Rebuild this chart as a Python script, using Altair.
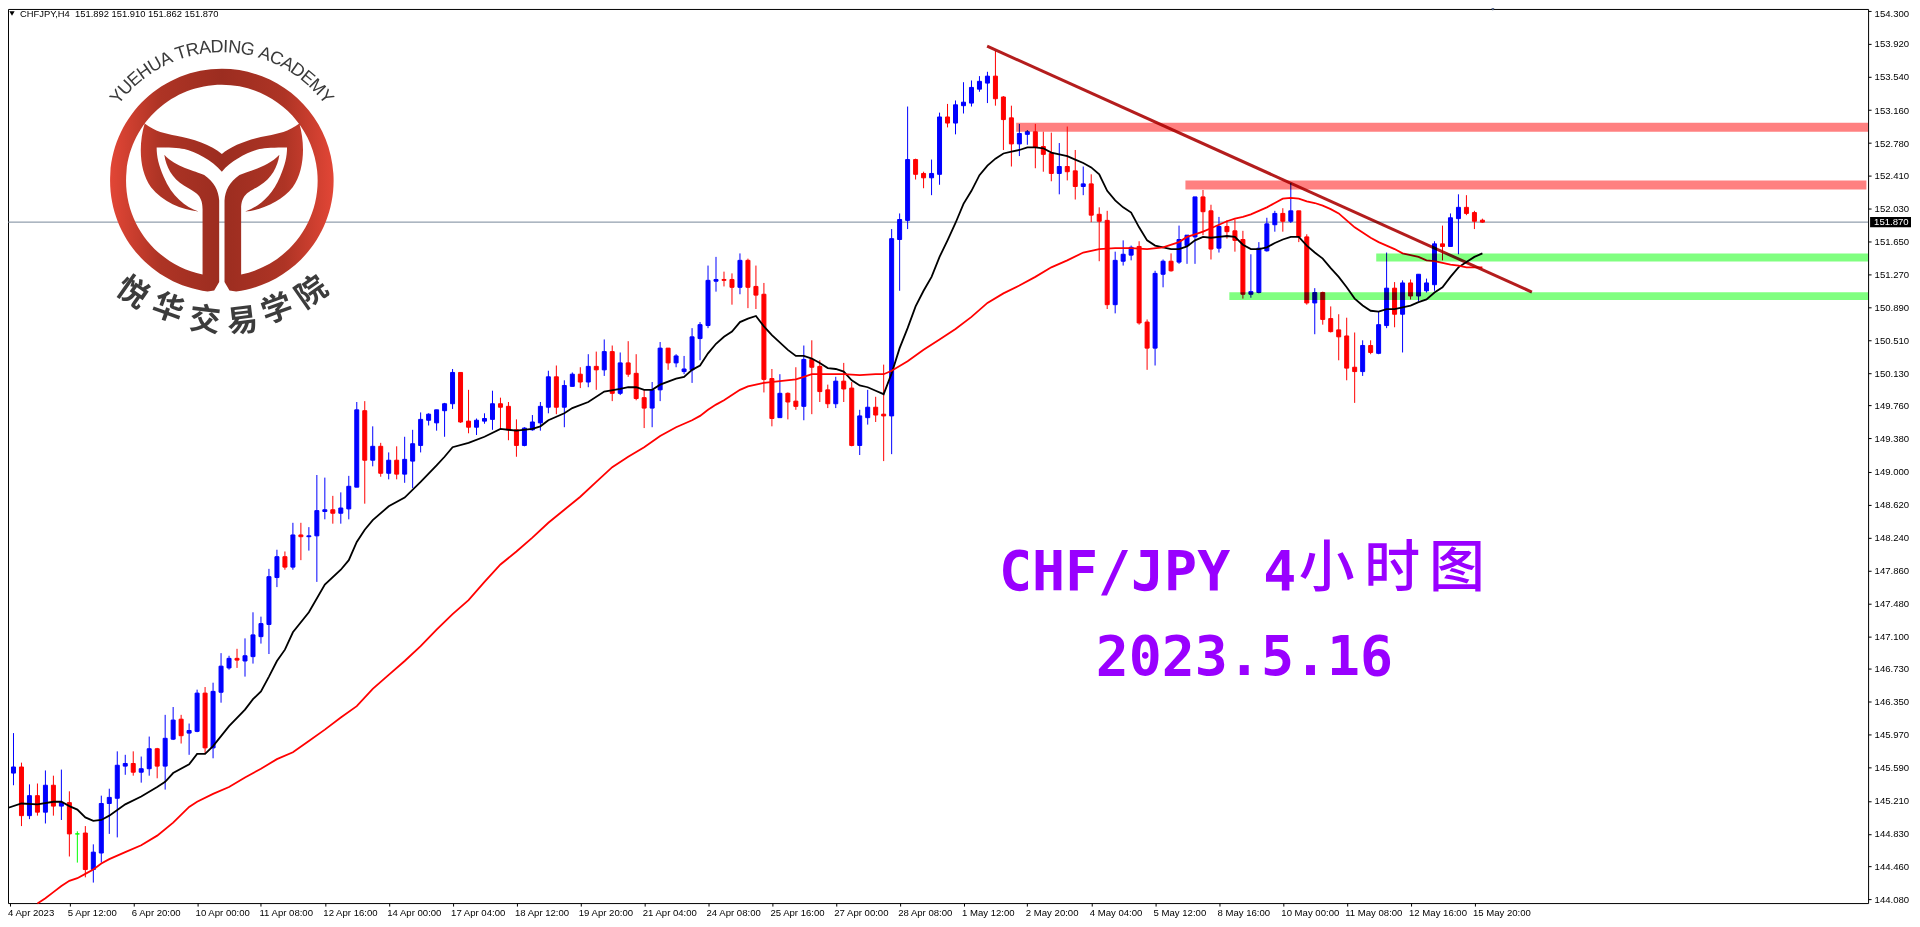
import math
import altair as alt
import pandas as pd

# ---- OHLC, one entry per 4h bar (B = up, R = down, G = unchanged) ----
direction = list("BBRBRBRBRG" "RBBBBBRBBR" "BBRBBRBBBR" "BBBBBRBRBB" "BRBBBRBRBR" "BBBBBBBRRB" "BBRRRBBBBR" "BBRBRBRBRR" "RBBRBBBBBB" "RRBRRRRBRR"
                 "BRRRBRRBBR" "RBBBRRBBRB" "BBBBRRRBBR" "RRBRRBRRRB" "BBRRBBRBBB" "RRBRRRBBBB" "RBRRBRRRRR" "BRBBRBRBBB" "RBBRRR")
body_top = [145.53,145.60,145.60,145.27,145.27,145.39,145.39,145.19,145.19,144.83,
144.84,144.62,145.18,145.25,145.62,145.64,145.64,145.58,145.81,145.81,
145.93,146.14,146.15,146.02,146.45,146.45,146.47,146.76,146.85,146.85,
146.88,147.12,147.25,147.79,148.02,148.02,148.27,148.27,148.26,148.55,
148.56,148.56,148.58,148.83,149.71,149.70,149.29,149.29,149.13,149.13,
149.14,149.32,149.60,149.66,149.71,149.78,150.14,150.14,149.58,149.59,
149.61,149.78,149.78,149.75,149.48,149.50,149.57,149.75,150.09,150.09,
149.99,150.12,150.12,150.21,150.21,150.38,150.38,150.25,150.25,150.13,
149.85,149.94,150.42,150.42,150.33,150.18,150.55,150.69,151.20,151.21,
151.21,151.21,151.43,151.43,151.13,151.04,150.07,149.90,149.90,149.81,
150.29,150.29,150.21,149.94,150.04,150.04,149.96,149.64,149.74,149.74,
149.66,151.68,151.90,152.59,152.59,152.43,152.43,153.08,153.08,153.22,
153.25,153.42,153.49,153.55,153.55,153.31,153.07,152.89,152.91,152.91,
152.74,152.66,152.51,152.51,152.46,152.31,152.31,151.96,151.89,151.43,
151.50,151.58,151.59,150.72,151.28,151.42,151.42,151.67,151.72,152.16,
152.16,152.00,151.82,151.82,151.77,151.67,151.07,151.57,151.85,151.97,
151.97,152.00,152.00,151.70,151.06,151.06,150.76,150.63,150.56,150.20,
150.45,150.45,150.69,151.11,151.11,151.17,151.17,151.27,151.17,151.62,
151.62,151.92,152.04,152.04,151.98,151.892]
body_bottom = [145.36,145.53,145.04,145.04,145.08,145.08,145.15,145.15,144.83,144.83,
144.42,144.42,144.61,145.18,145.24,145.61,145.54,145.54,145.58,145.61,
145.61,145.92,145.96,145.99,146.01,145.82,145.82,146.46,146.74,146.83,
146.82,146.87,147.10,147.24,147.78,147.90,147.90,148.25,148.25,148.26,
148.54,148.52,148.52,148.57,148.82,149.13,149.13,148.98,148.98,148.97,
148.97,149.12,149.30,149.59,149.56,149.70,149.78,149.57,149.51,149.51,
149.58,149.60,149.74,149.48,149.30,149.30,149.48,149.56,149.74,149.74,
149.74,149.98,150.03,150.03,150.17,150.17,149.90,149.90,150.12,149.84,
149.73,149.73,149.94,150.25,150.25,150.15,150.17,150.53,150.68,151.19,
151.20,151.12,151.12,151.12,151.03,150.06,149.61,149.62,149.80,149.75,
149.75,150.20,149.92,149.78,149.78,149.95,149.30,149.30,149.62,149.65,
149.64,149.64,151.67,151.89,152.42,152.38,152.38,152.42,153.01,153.01,
153.21,153.24,153.40,153.47,153.29,153.05,152.77,152.77,152.88,152.73,
152.65,152.43,152.43,152.45,152.28,152.28,151.95,151.88,150.92,150.92,
151.42,151.49,150.71,150.42,150.42,151.27,151.31,151.41,151.60,151.70,
151.99,151.56,151.57,151.76,151.66,151.04,151.04,151.06,151.54,151.84,
151.88,151.88,151.70,150.94,150.94,150.75,150.61,150.55,150.19,150.15,
150.15,150.37,150.36,150.68,150.81,150.81,151.02,151.02,151.08,151.15,
151.59,151.59,151.91,151.97,151.88,151.870]
high = [145.66,145.99,145.65,145.40,145.41,145.56,145.50,145.57,145.32,144.86,
144.92,144.71,145.27,145.35,145.78,145.74,145.78,145.72,145.95,145.82,
146.20,146.29,146.20,146.10,146.49,146.52,146.57,146.91,146.88,146.96,
147.08,147.38,147.33,147.88,148.10,148.08,148.41,148.41,148.36,148.96,
148.93,148.72,148.76,148.95,149.80,149.81,149.52,149.33,149.22,149.29,
149.40,149.48,149.68,149.67,149.71,149.79,150.18,150.14,149.94,149.61,
149.67,149.93,149.85,149.80,149.60,149.51,149.65,149.80,150.16,150.22,
150.05,150.14,150.20,150.35,150.38,150.52,150.45,150.37,150.50,150.35,
149.94,150.03,150.49,150.42,150.35,150.33,150.65,150.72,151.37,151.47,
151.30,151.28,151.51,151.45,151.37,151.17,150.18,150.12,149.91,150.20,
150.45,150.51,150.28,150.00,150.09,150.25,150.03,149.71,149.94,149.86,
150.23,151.79,151.97,153.20,152.60,152.45,152.59,153.13,153.23,153.27,
153.48,153.50,153.55,153.60,153.84,153.32,153.21,153.00,152.93,153.00,
152.91,152.90,152.78,152.97,152.70,152.51,152.42,152.04,152.00,151.53,
151.66,151.60,151.65,150.75,151.31,151.44,151.51,151.83,151.72,152.16,
152.24,152.07,151.93,151.89,151.90,151.77,151.50,151.64,151.92,152.00,
152.03,152.32,152.00,151.73,151.11,151.07,150.90,150.81,150.77,150.60,
150.51,150.51,150.84,151.52,151.18,151.20,151.21,151.27,151.22,151.65,
151.83,151.97,152.19,152.18,152.00,151.910]
low = [145.21,145.39,144.92,145.00,145.04,144.95,145.04,144.99,144.57,144.50,
144.33,144.27,144.50,144.83,144.79,145.51,145.50,145.42,145.50,145.47,
145.34,145.91,145.87,145.74,146.00,145.76,145.70,146.34,146.72,146.74,
146.64,146.79,147.02,146.90,147.67,147.87,147.87,147.98,148.09,147.73,
148.45,148.40,148.40,148.45,148.82,148.63,149.06,148.94,148.91,148.91,
148.87,148.81,149.22,149.53,149.47,149.40,149.72,149.56,149.44,149.42,
149.55,149.48,149.48,149.36,149.17,149.29,149.47,149.47,149.67,149.66,
149.51,149.98,149.96,149.97,149.94,150.10,149.81,149.88,150.09,149.82,
149.50,149.51,149.81,150.17,150.20,150.12,150.02,150.28,150.65,151.07,
151.13,150.92,151.04,150.88,150.87,149.91,149.52,149.62,149.60,149.71,
149.59,149.66,149.80,149.73,149.73,149.80,149.29,149.19,149.54,149.57,
149.12,149.20,151.08,151.79,152.36,152.26,152.18,152.30,152.96,152.88,
153.12,153.20,153.37,153.24,153.21,152.70,152.51,152.63,152.76,152.49,
152.45,152.34,152.19,152.35,152.13,152.18,151.87,151.42,150.87,150.82,
151.37,151.43,150.69,150.17,150.22,151.12,151.30,151.39,151.39,151.39,
151.72,151.44,151.52,151.68,151.53,150.99,151.00,151.05,151.53,151.76,
151.76,151.86,151.64,150.92,150.58,150.69,150.60,150.28,150.05,149.79,
150.10,150.35,150.35,150.65,150.66,150.37,150.98,150.96,151.06,151.08,
151.43,151.59,151.50,151.95,151.79,151.862]

# ---- moving averages, read at the bars below ----
ma_fast_bar = [0,2,4,6,7,8,9,10,11,12,13,15,17,19,20,21,23,24,25,26,28,30,31,32,33,34,35,36,38,40,42,43,44,45,46,48,50,52,54,55,56,58,60,62,64,66,67,68,70,71,73,75,77,78,79,80,81,82,84,85,86,87,88,89,90,91,92,93,94,95,96,98,99,100,101,102,103,104,105,106,107,108,109,110,111,112,113,114,115,116,117,118,119,120,121,122,123,124,125,126,127,128,129,130,131,132,133,134,135,136,137,138,139,140,141,142,143,144,145,146,147,148,149,150,151,152,153,154,155,156,157,158,159,160,161,162,163,164,165,166,167,168,169,170,171,172,173,174,175,176,177,178,179,180,181,182,183,184,185]
ma_fast = [145.12,145.18,145.17,145.20,145.20,145.15,145.11,145.02,144.98,144.99,145.04,145.17,145.26,145.37,145.43,145.53,145.63,145.75,145.75,145.84,146.07,146.26,146.38,146.47,146.64,146.82,146.95,147.15,147.38,147.70,147.87,147.98,148.19,148.33,148.44,148.60,148.70,148.88,149.07,149.17,149.28,149.33,149.40,149.49,149.47,149.49,149.52,149.59,149.67,149.73,149.80,149.92,149.95,149.97,149.97,149.94,149.94,150.00,150.07,150.09,150.17,150.22,150.36,150.47,150.55,150.61,150.72,150.76,150.79,150.67,150.57,150.40,150.33,150.33,150.30,150.25,150.19,150.18,150.15,150.05,149.99,149.97,149.93,149.89,150.13,150.42,150.65,150.90,151.08,151.24,151.47,151.66,151.86,152.08,152.23,152.41,152.52,152.60,152.66,152.68,152.70,152.73,152.73,152.72,152.67,152.65,152.63,152.59,152.55,152.50,152.42,152.23,152.12,152.04,151.98,151.81,151.66,151.60,151.58,151.56,151.56,151.59,151.66,151.70,151.69,151.70,151.71,151.70,151.61,151.56,151.56,151.58,151.63,151.67,151.70,151.70,151.60,151.52,151.45,151.34,151.24,151.12,150.99,150.91,150.85,150.84,150.87,150.87,150.89,150.91,150.95,150.98,151.06,151.12,151.24,151.35,151.41,151.47,151.51]
ma_slow_bar = [4,5,6,7,8,9,10,11,12,13,15,17,19,21,23,24,26,28,30,32,34,36,38,40,42,44,46,48,50,52,54,56,58,60,62,64,66,68,70,72,74,76,78,80,82,84,85,86,87,88,89,90,91,92,93,94,95,97,99,100,101,103,105,107,109,110,111,113,115,117,119,121,123,125,127,129,131,133,135,137,139,141,143,145,147,148,149,150,151,152,153,154,155,156,157,158,159,160,161,162,163,164,165,166,167,168,169,170,171,172,173,174,175,176,177,178,179,180,181,182,183,184,185]
ma_slow = [144.03,144.09,144.16,144.23,144.29,144.32,144.37,144.42,144.49,144.54,144.62,144.70,144.81,144.96,145.14,145.20,145.29,145.37,145.48,145.58,145.69,145.77,145.90,146.03,146.17,146.30,146.50,146.66,146.82,146.99,147.18,147.36,147.52,147.73,147.93,148.08,148.24,148.41,148.56,148.71,148.88,149.05,149.17,149.28,149.41,149.51,149.55,149.59,149.64,149.71,149.77,149.82,149.88,149.94,149.98,150.00,150.02,150.04,150.06,150.09,150.12,150.12,150.12,150.11,150.12,150.12,150.16,150.27,150.40,150.52,150.64,150.78,150.94,151.05,151.14,151.24,151.35,151.43,151.52,151.56,151.57,151.57,151.56,151.58,151.64,151.70,151.73,151.76,151.80,151.84,151.88,151.91,151.93,151.96,152.00,152.04,152.09,152.14,152.15,152.14,152.11,152.09,152.06,152.02,151.97,151.89,151.81,151.75,151.69,151.64,151.60,151.56,151.51,151.49,151.47,151.43,151.42,151.40,151.38,151.37,151.35,151.35,151.35]

# ---- drawn objects ----
zone_start = [126.6, 147.8, 171.7, 153.3]
zone_end = [233.3, 233.1, 233.3, 233.3]
zone_top = [153.014, 152.348, 151.509, 151.062]
zone_bottom = [152.910, 152.244, 151.418, 150.975]
zone_color = ["#FF8080", "#FF8080", "#80FF80", "#80FF80"]
trend_bar = [122.96, 191.2]
trend_price = [153.895, 151.065]
last_price = 151.87

# ---- axes ----
price_ticks = [154.30,153.92,153.54,153.16,152.78,152.41,152.03,151.65,151.27,150.89,150.51,150.13,149.76,149.38,149.00,148.62,148.24,147.86,147.48,147.10,146.73,146.35,145.97,145.59,145.21,144.83,144.46,144.08]
time_tick_bars = [0.5] + [8*k for k in range(1, 24)]
time_tick_labels = ["4 Apr 2023","5 Apr 12:00","6 Apr 20:00","10 Apr 00:00","11 Apr 08:00","12 Apr 16:00","14 Apr 00:00","17 Apr 04:00","18 Apr 12:00","19 Apr 20:00","21 Apr 04:00","24 Apr 08:00","25 Apr 16:00","27 Apr 00:00","28 Apr 08:00","1 May 12:00","2 May 20:00","4 May 04:00","5 May 12:00","8 May 16:00","10 May 00:00","11 May 08:00","12 May 16:00","15 May 20:00"]

UI_FONT = "Liberation Sans"
WIDTH, HEIGHT = 1864, 896
color_of = {"B": "#0000FF", "R": "#FF0000", "G": "#00FF00"}

bars = pd.DataFrame({"i": range(len(direction)), "top": body_top, "bottom": body_bottom,
                     "high": high, "low": low, "c": [color_of[d] for d in direction]})
x_scale = alt.Scale(domain=[0.3125, 233.3125], nice=False, zero=False, padding=0)
y_scale = alt.Scale(domain=[144.034, 154.323], nice=False, zero=False, padding=0)
label_expr = "{" + ",".join(f"'{v}':'{t}'" for v, t in zip(time_tick_bars, time_tick_labels)) + "}[''+datum.value]"
x_axis = alt.Axis(values=time_tick_bars, tickCount=60, labelExpr=label_expr, title=None, grid=False, domain=False,
                  tickColor="black", tickSize=3, labelAlign="left", labelBaseline="middle", labelPadding=6, labelOffset=-2,
                  labelFont=UI_FONT, labelFontSize=9.6, labelColor="#000000", labelOverlap=False, labelFlush=False, labelBound=False)
y_axis = alt.Axis(orient="right", values=price_ticks, tickCount=60, format=".3f", title=None, grid=False, domain=False,
                  tickColor="black", tickSize=3, labelPadding=3, labelFont=UI_FONT, labelFontSize=9.6,
                  labelOffset={"condition": {"test": "datum.value > 154.2", "value": 3}, "value": 0},
                  labelColor="#000000", labelOverlap=False, labelFlush=False, labelBound=False)
X = alt.X("i:Q", scale=x_scale)
Y = alt.Y("top:Q", scale=y_scale)

base = alt.Chart(pd.DataFrame({"i": [0.5], "top": [150.0]})).mark_point(opacity=0).encode(
    x=alt.X("i:Q", scale=x_scale, axis=x_axis), y=alt.Y("top:Q", scale=y_scale, axis=y_axis))

price_line = alt.Chart(pd.DataFrame({"p": [last_price]})).mark_rule(color="#778899", strokeWidth=1).encode(
    y=alt.Y("p:Q", scale=y_scale))
wicks = alt.Chart(bars).mark_rule(strokeWidth=1).encode(
    x=X, y=alt.Y("high:Q", scale=y_scale), y2="low:Q", color=alt.Color("c:N", scale=None))
bodies = alt.Chart(bars).mark_bar(size=4, strokeWidth=1).encode(
    x=X, y=Y, y2="bottom:Q", color=alt.Color("c:N", scale=None), stroke=alt.Stroke("c:N", scale=None))

line_fast = alt.Chart(pd.DataFrame({"i": ma_fast_bar, "top": ma_fast})).mark_line(color="#000000", strokeWidth=1.8).encode(x=X, y=Y)
line_slow = alt.Chart(pd.DataFrame({"i": ma_slow_bar, "top": ma_slow})).mark_line(color="#FF0000", strokeWidth=1.8).encode(x=X, y=Y)

zones = alt.Chart(pd.DataFrame({"i": zone_start, "e": zone_end, "top": zone_top, "b": zone_bottom, "c": zone_color})).mark_rect(
    blend="multiply").encode(x=X, x2="e:Q", y=Y, y2="b:Q", color=alt.Color("c:N", scale=None))
trend = alt.Chart(pd.DataFrame({"i": trend_bar, "top": trend_price})).mark_line(
    color="#B01010", strokeWidth=3, blend="multiply", opacity=0.95).encode(x=X, y=Y)

tag_box = alt.Chart(pd.DataFrame({"t": [last_price + 0.06], "b": [last_price - 0.06]})).mark_rect(color="#000000").encode(
    x=alt.value(1866), x2=alt.value(1907), y=alt.Y("t:Q", scale=y_scale), y2="b:Q")
tag_text = alt.Chart(pd.DataFrame({"p": [last_price], "s": ["151.870"]})).mark_text(
    color="#FFFFFF", font=UI_FONT, fontSize=9.6, align="left", baseline="middle", dx=0).encode(
    x=alt.value(1870), y=alt.Y("p:Q", scale=y_scale), text="s:N")

def pixel_text(text, x, y, **kw):
    return alt.Chart(pd.DataFrame({"s": [text]})).mark_text(**kw).encode(
        x=alt.value(x), y=alt.value(y), text="s:N")

header_mark = alt.Chart(pd.DataFrame({"s": [1]})).mark_point(shape="triangle-down", filled=True, color="#000000", size=28, opacity=1).encode(
    x=alt.value(4), y=alt.value(4.5))
shift_mark = alt.Chart(pd.DataFrame({"s": [1]})).mark_point(shape="triangle-down", filled=True, color="#5B6B8B", size=40, opacity=1).encode(
    x=alt.value(1488), y=alt.value(-1))
header = pixel_text("CHFJPY,H4\u00a0\u00a0151.892 151.910 151.862 151.870", 12, 5.5, font=UI_FONT, fontSize=9.4,
                    color="#000000", align="left", baseline="middle")

PURPLE = "#9900FF"
MONO = "DejaVu Sans Mono"
title1 = pixel_text("CHF/JPY 4", 993, 582.7, font=MONO, fontWeight="bold", fontSize=55, color=PURPLE, align="left", baseline="alphabetic")
title2 = pixel_text("2023.5.16", 1090, 667, font=MONO, fontWeight="bold", fontSize=55, color=PURPLE, align="left", baseline="alphabetic")
title_cjk = alt.Chart(pd.DataFrame({"s": ["小", "时", "图"], "x": [1321.5, 1387, 1452]})).mark_text(
    font="Noto Sans CJK SC", fontWeight=500, fontSize=56, color=PURPLE, align="center", baseline="middle").encode(
    x=alt.X("x:Q", scale=None), y=alt.value(561), text="s:N")

# ---- logo (paths are in units of 1/3 px about the ring centre) ----
logo_ring = ("M8 62 C10 30 23 7 53 -15 C80 -27 140 -40 173 -76 C168 -40 150 -5 113 17 C85 35 58 40 58 87 L58 284 "
             "A288 288 0 1 0 -58 284 L-58 87 C-58 40 -85 35 -113 17 C-150 -5 -168 -40 -173 -76 C-140 -40 -80 -27 -53 -15 "
             "C-23 7 -10 30 -8 62 L-8 307 L-23 332 L-43 335 A336 336 0 1 1 43 335 L23 332 L8 307 Z "
             "M-232 -170 C-200 -145 -170 -140 -137 -133 C-90 -125 -30 -105 0 -78 C30 -105 90 -125 137 -133 C170 -140 200 -145 233 -170 "
             "C250 -110 250 -30 213 22 C180 65 120 90 70 95 C110 80 150 50 175 -10 C190 -45 196 -70 196 -98 C160 -98 130 -97 113 -93 "
             "C80 -85 30 -60 0 -25 C-30 -60 -80 -85 -113 -93 C-130 -97 -160 -98 -196 -98 C-196 -70 -190 -45 -175 -10 C-150 50 -110 80 -70 95 "
             "C-120 90 -180 65 -213 22 C-250 -30 -250 -110 -232 -170 Z")
logo_fill = alt.Gradient(gradient="linear", x1=0, x2=1, y1=0, y2=0, stops=[
    alt.GradientStop(offset=0, color="#E24636"), alt.GradientStop(offset=0.22, color="#AE3425"),
    alt.GradientStop(offset=0.5, color="#9C2D20"), alt.GradientStop(offset=0.78, color="#AE3425"),
    alt.GradientStop(offset=1, color="#E24636")])
logo = alt.Chart(pd.DataFrame({"s": [1]})).mark_point(shape=logo_ring, filled=True, fill=logo_fill, size=4/9, opacity=1, strokeWidth=0).encode(
    x=alt.value(214.3), y=alt.value(171.4))

arc_text = "YUEHUA TRADING ACADEMY"
arc_w = dict(Y=.667, U=.722, E=.667, H=.722, A=.667, T=.611, R=.722, D=.722, I=.278, N=.722, G=.778, C=.722, M=.833)
arc_w[" "] = .278
total = sum(arc_w[c] for c in arc_text)
arc_rows, run = [], 0.0
for c in arc_text:
    mid = run + arc_w[c] / 2
    run += arc_w[c]
    a = (mid / total - 0.5) * 108
    r = math.radians(a)
    arc_rows.append({"s": c, "x": 214.3 + 133 * math.sin(r), "y": 171.4 - 133 * math.cos(r), "a": a % 360})
logo_arc = alt.Chart(pd.DataFrame(arc_rows)).mark_text(
    font=UI_FONT, fontSize=18, color="#3A3A3A", align="center", baseline="middle").encode(
    x=alt.X("x:Q", scale=None), y=alt.Y("y:Q", scale=None), angle=alt.Angle("a:Q", scale=None), text="s:N")
logo_cjk = alt.Chart(pd.DataFrame({
    "s": list("悦华交易学院"),
    "x": [124, 160, 197, 235, 270, 305],
    "y": [285, 301, 313, 314, 302, 285],
    "a": [35, 20, 7, 353, 340, 325]})).mark_text(
    font="Noto Sans CJK SC", fontWeight="bold", fontSize=31, color="#3C3C3C", align="center", baseline="middle").encode(
    x=alt.X("x:Q", scale=None), y=alt.Y("y:Q", scale=None), angle=alt.Angle("a:Q", scale=None), text="s:N")

chart = alt.layer(
    base, price_line, wicks, bodies, line_fast, line_slow, zones, trend,
    tag_box, tag_text, header_mark, shift_mark, header, title1, title_cjk, title2, logo, logo_arc, logo_cjk,
).properties(
    width=WIDTH, height=HEIGHT,
    autosize=alt.AutoSizeParams(type="none"),
    padding={"left": 0, "top": 0, "right": 44, "bottom": 15},
    background="#FFFFFF",
).configure_view(stroke="#000000", strokeWidth=1)

chart.save("out.html", embed_options={"renderer": "svg", "actions": False})
